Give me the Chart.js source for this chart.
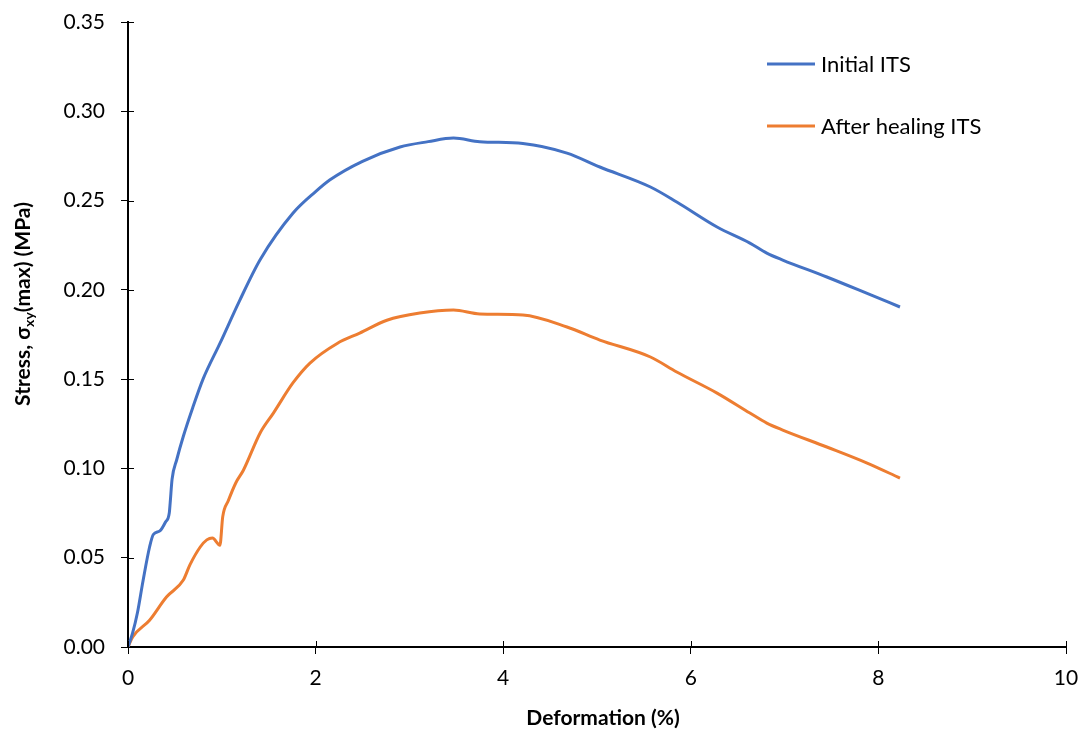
<!DOCTYPE html>
<html>
<head>
<meta charset="utf-8">
<script src="https://cdn.jsdelivr.net/npm/chart.js@4"></script>
<style>
	body { margin: 0; background: #fff; }
	#wrap { width: 1084px; height: 731px; }
</style>
</head>
<body>
<div id="wrap"><canvas id="its"></canvas></div>
<script>
const seriesNames = ["Initial ITS", "After healing ITS"]
const seriesColors = ["#4472c4", "#ed7d31"]

const xInitial = [0, 0.05, 0.10, 0.16, 0.23, 0.27, 0.34, 0.40, 0.44, 0.45, 0.47, 0.52, 0.59, 0.69, 0.80, 0.98, 1.19, 1.41, 1.76, 2.00, 2.15, 2.50, 2.90, 3.20, 3.47, 3.75, 4.21, 4.68, 5.03, 5.57, 5.85, 6.28, 6.63, 6.81, 6.98, 7.45, 7.88, 8.23]
const yInitial = [0, 0.008, 0.019, 0.037, 0.056, 0.063, 0.065, 0.070, 0.075, 0.081, 0.094, 0.105, 0.118, 0.134, 0.150, 0.170, 0.194, 0.217, 0.243, 0.255, 0.2615, 0.272, 0.280, 0.283, 0.285, 0.283, 0.282, 0.2766, 0.2688, 0.2576, 0.2492, 0.2352, 0.2262, 0.2206, 0.2167, 0.2072, 0.198, 0.1904]

const xHealed = [0, 0.05, 0.23, 0.41, 0.59, 0.66, 0.77, 0.84, 0.90, 0.98, 1.01, 1.07, 1.15, 1.23, 1.41, 1.55, 1.76, 1.94, 2.23, 2.47, 2.76, 3.11, 3.47, 3.75, 4.21, 4.68, 5.03, 5.57, 5.85, 6.28, 6.63, 6.81, 6.98, 7.45, 7.88, 8.23]
const yHealed = [0, 0.0056, 0.015, 0.028, 0.0375, 0.046, 0.056, 0.060, 0.061, 0.057, 0.073, 0.082, 0.092, 0.099, 0.120, 0.131, 0.148, 0.159, 0.170, 0.1758, 0.183, 0.187, 0.1887, 0.1865, 0.1859, 0.1792, 0.1719, 0.1624, 0.154, 0.1422, 0.131, 0.1254, 0.1215, 0.112, 0.103, 0.0946]

const xTicks = [0, 2, 4, 6, 8, 10]
const yTicks = [0, 0.05, 0.10, 0.15, 0.20, 0.25, 0.30, 0.35]

const xTitle = "Deformation (%)"
const yTitle = ["Stress, σ", "xy", "(max) (MPa)"]

const FONT = "Lato, 'Open Sans', sans-serif"

const toPoints = (xs, ys) => xs.map((x, i) => ({ x: x, y: ys[i] }))

// little ticks that cross the axes, legend in the plot and the titles
const extras = {
	id: 'extras',
	afterDraw(chart) {
		const ctx = chart.ctx
		const xs = chart.scales.x
		const ys = chart.scales.y
		const area = chart.chartArea
		ctx.save()
		ctx.strokeStyle = '#000'
		ctx.lineWidth = 1
		ctx.beginPath()
		yTicks.forEach(v => {
			const py = Math.round(ys.getPixelForValue(v)) + 0.5
			ctx.moveTo(area.left, py)
			ctx.lineTo(area.left + 6, py)
		})
		xTicks.forEach(v => {
			const px = Math.round(xs.getPixelForValue(v)) + 0.5
			ctx.moveTo(px, area.bottom)
			ctx.lineTo(px, area.bottom - 6)
		})
		ctx.stroke()

		// legend
		ctx.font = "22px " + FONT
		ctx.textBaseline = 'middle'
		ctx.fillStyle = '#000'
		const legY = [64, 126]
		seriesNames.forEach((name, i) => {
			ctx.strokeStyle = seriesColors[i]
			ctx.lineWidth = 3
			ctx.beginPath()
			ctx.moveTo(767, legY[i])
			ctx.lineTo(815, legY[i])
			ctx.stroke()
			ctx.fillText(name, 821, legY[i] + 1)
		})

		// x title
		ctx.font = "bold 21px " + FONT
		ctx.textAlign = 'center'
		ctx.textBaseline = 'middle'
		ctx.fillText(xTitle, 603, 718)

		// y title with subscript
		ctx.translate(23, 304)
		ctx.rotate(-Math.PI / 2)
		ctx.textAlign = 'left'
		ctx.textBaseline = 'middle'
		const bigFont = "bold 21px " + FONT
		const subFont = "bold 14px " + FONT
		ctx.font = bigFont
		const w0 = ctx.measureText(yTitle[0]).width
		const w2 = ctx.measureText(yTitle[2]).width
		ctx.font = subFont
		const w1 = ctx.measureText(yTitle[1]).width
		let x0 = -(w0 + w1 + w2) / 2
		ctx.font = bigFont
		ctx.fillText(yTitle[0], x0, 0)
		ctx.font = subFont
		ctx.fillText(yTitle[1], x0 + w0, 6)
		ctx.font = bigFont
		ctx.fillText(yTitle[2], x0 + w0 + w1, 0)
		ctx.restore()
	}
}

const ctx = document.getElementById('its').getContext('2d')

const chart = new Chart(ctx, {
	type: 'line',
	data: {
		datasets: [
			{
				label: seriesNames[0],
				data: toPoints(xInitial, yInitial),
				borderColor: seriesColors[0],
				borderWidth: 3,
				pointRadius: 0,
				cubicInterpolationMode: 'monotone',
				fill: false
			},
			{
				label: seriesNames[1],
				data: toPoints(xHealed, yHealed),
				borderColor: seriesColors[1],
				borderWidth: 3,
				pointRadius: 0,
				cubicInterpolationMode: 'monotone',
				fill: false
			}
		]
	},
	options: {
		responsive: true,
		maintainAspectRatio: false,
		animation: false,
		layout: { padding: { left: 50, right: 18, top: 22, bottom: 24 } },
		plugins: {
			legend: { display: false },
			tooltip: { enabled: false }
		},
		scales: {
			x: {
				type: 'linear',
				min: 0,
				max: 10,
				afterBuildTicks: s => { s.ticks = xTicks.map(v => ({ value: v })) },
				afterFit: s => { s.height = 60; s.paddingLeft = 0; s.paddingRight = 0 },
				ticks: {
					color: '#000',
					font: { family: FONT, size: 21 },
					padding: 12,
					maxRotation: 0
				},
				grid: {
					drawOnChartArea: false,
					color: '#000',
					tickLength: 7,
					tickColor: '#000'
				},
				border: { color: '#000', width: 2 }
			},
			y: {
				type: 'linear',
				min: 0,
				max: 0.35,
				afterBuildTicks: s => { s.ticks = yTicks.map(v => ({ value: v })) },
				afterFit: s => { s.width = 78; s.paddingTop = 0; s.paddingBottom = 0 },
				ticks: {
					color: '#000',
					font: { family: FONT, size: 21 },
					padding: 16,
					callback: v => v.toFixed(2)
				},
				grid: {
					drawOnChartArea: false,
					color: '#000',
					tickLength: 7,
					tickColor: '#000'
				},
				border: { color: '#000', width: 2 }
			}
		}
	},
	plugins: [extras]
})
</script>
</body>
</html>
